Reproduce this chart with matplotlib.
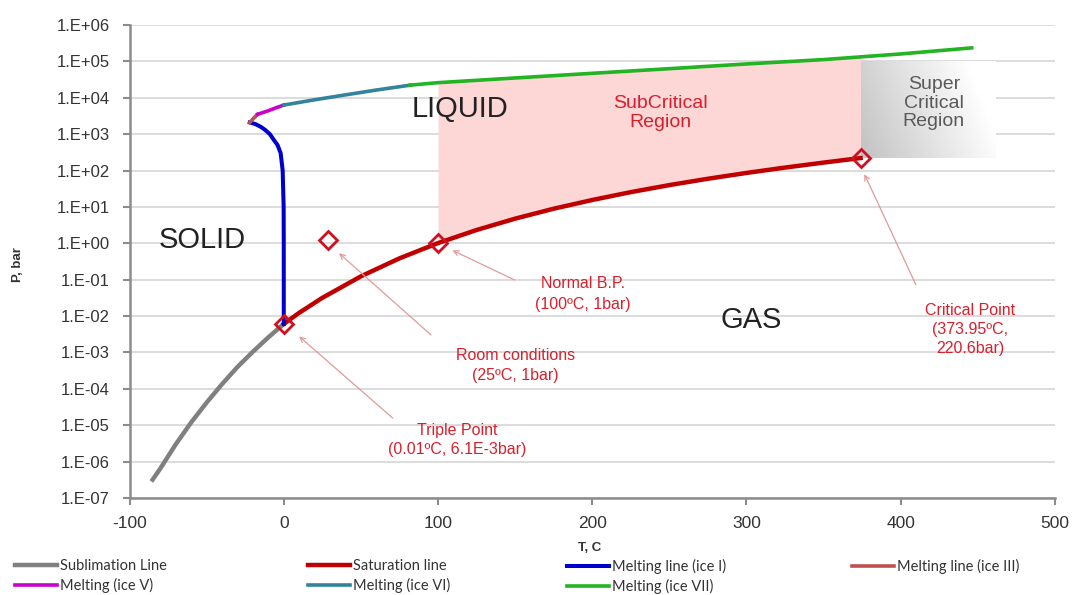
import numpy as np
import matplotlib
matplotlib.use('Agg')
import matplotlib.pyplot as plt

# Phase diagram of water: T in C, P in bar
sub_T = [-85, -80, -70, -60, -50, -40, -30, -20, -10, 0.01]
sub_P = [3.2e-7, 6.5e-7, 3.0e-6, 1.2e-5, 4.2e-5, 1.35e-4, 4.0e-4, 1.05e-3, 2.6e-3, 6.1e-3]

sat_T = [0.01, 10, 25, 50, 75, 100, 125, 150, 175, 200, 225, 250, 275, 300, 325, 350, 373.95]
sat_P = [0.0061, 0.0123, 0.0317, 0.1235, 0.386, 1.014, 2.32, 4.76, 8.93, 15.5, 25.5,
         39.8, 59.5, 85.9, 120.6, 165.3, 220.6]

ice1_T = [0.01, 0.0, -0.07, -0.7, -2.0, -4.0, -6.5, -9.0, -12.0, -15.0, -18.5, -21.985]
ice1_P = [6.1e-3, 1.0, 10, 100, 300, 500, 700, 1000, 1300, 1600, 1900, 2099]

ice3_T = [-21.985, -19.5, -16.986]
ice3_P = [2099, 2750, 3501]

ice5_T = [-16.986, -10, -5, 0.16]
ice5_P = [3501, 4400, 5300, 6324]

ice6_T = [0.16, 20, 40, 60, 81.85]
ice6_P = [6324, 8800, 12000, 16300, 22160]

ice7_T = [81.85, 100, 150, 200, 250, 300, 350, 400, 446]
ice7_P = [22160, 26000, 35000, 47000, 63000, 85000, 1.12e5, 1.6e5, 2.35e5]

# special points (triple, room, boiling, critical)
pts_T = [0.01, 29, 100, 373.95]
pts_P = [6.1e-3, 1.2, 1.05, 220.6]

tick_exp = list(range(-7, 7))
x_ticks = [-100, 0, 100, 200, 300, 400, 500]

red = '#d8202c'
ann_font = ['Liberation Sans', 'DejaVu Sans']

fig = plt.figure(figsize=(10.73, 5.95), dpi=100)
ax = fig.add_axes([0.1207, 0.163, 0.8625, 0.795])
ax.set_yscale('log')
ax.set_xlim(-100, 500)
ax.set_ylim(1e-7, 1e6)

# subcritical region between saturation and ice VII lines
tt = np.linspace(100, 373.95, 200)
low = 10 ** np.interp(tt, sat_T, np.log10(sat_P))
high = 10 ** np.interp(tt, ice7_T, np.log10(ice7_P))
ax.fill_between(tt, low, high, color='#fdd6d6', lw=0, zorder=1)

# supercritical box with gray gradient
gx = np.linspace(373.95, 462, 60)
gy = np.geomspace(220.6, 1.0e5, 30)
fx = np.linspace(0, 1, 59)
fy = np.linspace(0, 1, 29)
grad = 0.76 + 0.22 * fx[None, :] + 0.06 * fy[:, None]
ax.pcolormesh(gx, gy, np.clip(grad, 0, 1), cmap='gray', vmin=0, vmax=1,
              shading='flat', zorder=1.5)

l_sub, = ax.plot(sub_T, sub_P, color='#808080', lw=3.2, label='Sublimation Line', zorder=3)
l_sat, = ax.plot(sat_T, sat_P, color='#c00000', lw=3.2, label='Saturation line', zorder=3)
l_i1, = ax.plot(ice1_T, ice1_P, color='#0000cc', lw=2.9, label='Melting line (ice I)', zorder=3)
l_i3, = ax.plot(ice3_T, ice3_P, color='#c0504d', lw=2.6, label='Melting line (ice III)', zorder=3)
l_i5, = ax.plot(ice5_T, ice5_P, color='#cc00cc', lw=2.6, label='Melting (ice V)', zorder=3)
l_i6, = ax.plot(ice6_T, ice6_P, color='#31849b', lw=2.6, label='Melting (ice VI)', zorder=3)
l_i7, = ax.plot(ice7_T, ice7_P, color='#22b422', lw=2.6, label='Melting (ice VII)', zorder=3)

ax.plot(pts_T, pts_P, ls='none', marker='D', ms=9.5, mfc='none', mec='#d01020',
        mew=2, zorder=4)

# region labels
ax.text(-53, 1.2, 'SOLID', fontsize=21, ha='center', va='center', color='#222222', family=ann_font)
ax.text(114, 4.8e3, 'LIQUID', fontsize=21, ha='center', va='center', color='#222222', family=ann_font)
ax.text(303, 7.6e-3, 'GAS', fontsize=21, ha='center', va='center', color='#222222', family=ann_font)
ax.text(244, 3.7e3, 'SubCritical\nRegion', fontsize=14, ha='center', va='center',
        color=red, family=ann_font, linespacing=1.15)
ax.text(421.5, 7.1e3, 'Super\nCritical\nRegion', fontsize=14, ha='center', va='center',
        color='#595959', family=ann_font, linespacing=1.1, zorder=5)

# annotations with arrows
arrow = dict(arrowstyle='->', color='#e09a9a', lw=0.9, mutation_scale=9)
ax.annotate('', xy=(8.6, 3.1e-3), xytext=(72, 1.4e-5), arrowprops=arrow, zorder=4)
ax.annotate('', xy=(34.5, 0.6), xytext=(96.8, 2.7e-3), arrowprops=arrow, zorder=4)
ax.annotate('', xy=(107.8, 0.69), xytext=(151.3, 0.091), arrowprops=arrow, zorder=4)
ax.annotate('', xy=(375.7, 93), xytext=(410.6, 0.062), arrowprops=arrow, zorder=4)

ax.text(194, 0.04, 'Normal B.P.\n(100ºC, 1bar)', fontsize=11.5, ha='center', va='center',
        color=red, family=ann_font, linespacing=1.45)
ax.text(150, 4.4e-4, 'Room conditions\n(25ºC, 1bar)', fontsize=11.5, ha='center', va='center',
        color=red, family=ann_font, linespacing=1.35)
ax.text(112.5, 3.9e-6, 'Triple Point\n(0.01ºC, 6.1E-3bar)', fontsize=11.5, ha='center',
        va='center', color=red, family=ann_font, linespacing=1.3)
ax.text(445, 4.3e-3, 'Critical Point\n(373.95ºC,\n220.6bar)', fontsize=11.5, ha='center',
        va='center', color=red, family=ann_font, linespacing=1.35)

# axes styling
ax.set_yticks([10.0 ** e for e in tick_exp])
ax.set_yticklabels(['1.E%+03d' % e for e in tick_exp])
ax.minorticks_off()
ax.set_xticks(x_ticks)
ax.set_xticklabels([str(v) for v in x_ticks])
ax.tick_params(axis='y', labelsize=12, length=5, width=1.5, color='#8c8c8c', pad=9,
               labelcolor='#333333')
ax.tick_params(axis='x', labelsize=12.5, length=5, width=1.5, color='#8c8c8c', pad=8,
               labelcolor='#333333')
for lab in ax.get_xticklabels() + ax.get_yticklabels():
    lab.set_family(ann_font)
ax.grid(axis='y', color='#d9d9d9', lw=1.3)
ax.set_axisbelow(True)
for s in ['top', 'right']:
    ax.spines[s].set_visible(False)
for s in ['left', 'bottom']:
    ax.spines[s].set_color('#8c8c8c')
    ax.spines[s].set_linewidth(1.8)

fig.text(0.017, 0.555, 'P, bar', rotation=90, fontsize=9.5, fontweight='bold',
         ha='center', va='center', color='#333333', family=ann_font)
fig.text(0.5499, 0.079, 'T, C', fontsize=9.5, fontweight='bold', ha='center', va='center',
         color='#333333', family=ann_font)

# legend in four columns
columns = [([l_sub, l_i5], 15), ([l_sat, l_i6], 308), ([l_i1, l_i7], 567), ([l_i3], 852)]
for handles, xpix in columns:
    leg = fig.legend(handles=handles, loc='upper left', bbox_to_anchor=(xpix / 1073, 0.061),
                     frameon=False, borderpad=0, borderaxespad=0, handlelength=2.9,
                     handletextpad=0.2, labelspacing=0.38,
                     prop={'family': ['Lato', 'DejaVu Sans'], 'size': 10.5})
    for t in leg.get_texts():
        t.set_color('#333333')

fig.savefig('out.png', dpi=100)
